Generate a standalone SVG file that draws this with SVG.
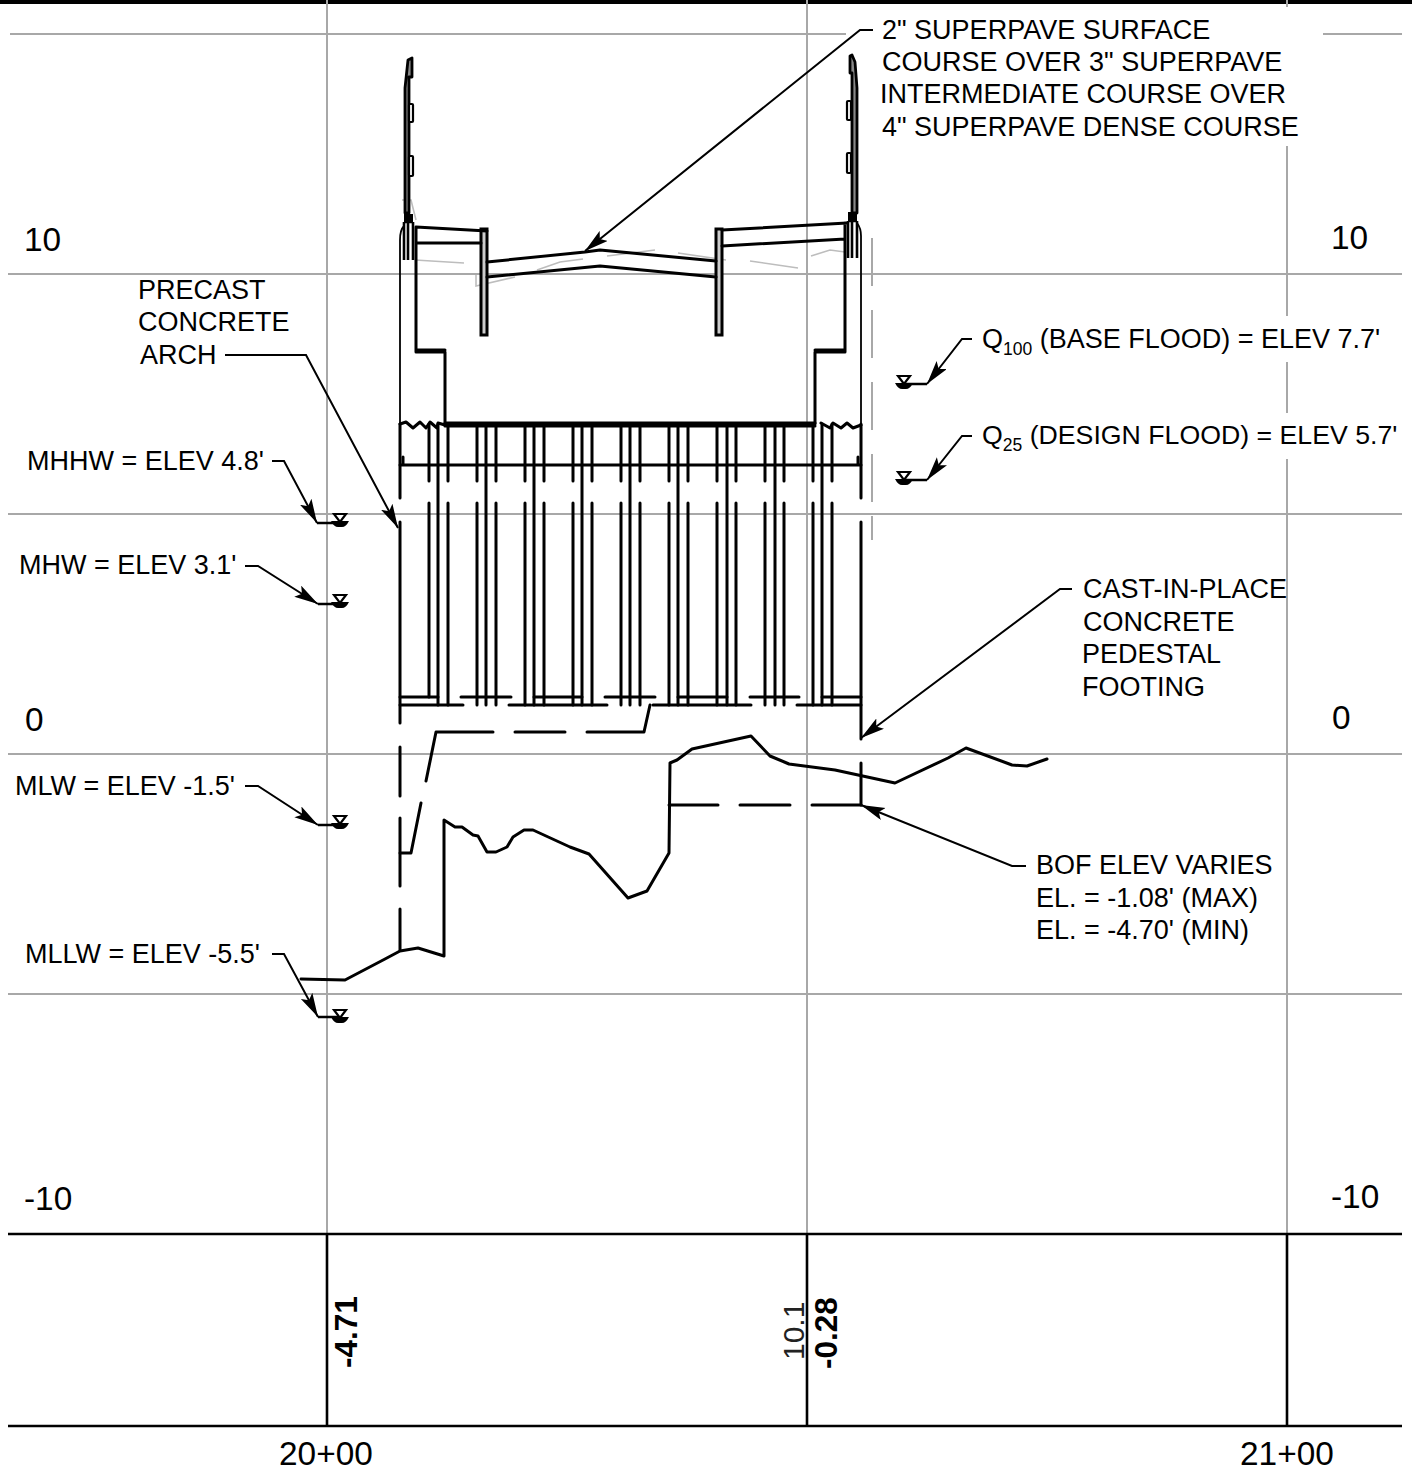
<svg xmlns="http://www.w3.org/2000/svg" width="1412" height="1472" viewBox="0 0 1412 1472">
<style>
text{font-family:"Liberation Sans",Arial,sans-serif;font-size:27px;fill:#000}
.num{font-size:33.4px}
.b{font-weight:bold;font-size:31.5px}
.g{stroke:#a8a8a8;stroke-width:2;fill:none}
.lg{stroke:#bdbdbd;stroke-width:1.6;fill:none}
.k{stroke:#000;stroke-width:3;fill:none;stroke-linecap:round;stroke-linejoin:round}
.t{stroke:#000;stroke-width:1.8;fill:none}
.m{stroke:#000;stroke-width:2.6;fill:none}
.l{stroke:#000;stroke-width:2;fill:none}
</style>
<defs>
<marker id="a" markerUnits="userSpaceOnUse" markerWidth="26" markerHeight="14" refX="24" refY="6.5" orient="auto"><path d="M0 0L24 6.5L0 13L5 6.5Z" fill="#000"/></marker>
<g id="wl"><path d="M-6 -9H6L0 -1Z" fill="#fff" stroke="#000" stroke-width="2.2"/><path d="M-9 -2H9Q6 4 2 4H-2Q-6 4-9 -2Z" fill="#000"/></g>
</defs>
<rect width="1412" height="4" fill="#000"/>
<g id="grid">
<path class="g" d="M10 34H846M1323 34H1402M8 274H1402M8 514H1402M8 754H1402M8 994H1402"/>
<path class="g" d="M327 0V1234M807 0V1234M1287 0V7M1287 146V316M1287 362V413M1287 459V1234"/>
<path class="g" d="M872 238V286M872 310V358M872 382V430M872 454V502M872 516V540"/>
</g>
<g id="profile-table">
<path class="m" d="M8 1234H1402M8 1426H1402M327 1234V1426M807 1234V1426M1287 1234V1426"/>
</g>
<g id="structure">
<path class="lg" d="M415 260L464 263M476 275V286L515 277M537 270L560 262L583 259M607 256L655 250M678 253L726 260M750 261L798 268M811 256L830 250L845 252"/>
<path class="t" d="M400 424V240Q400 230 404 226M861 424V236Q861 228 857 223"/>
<rect x="481" y="229" width="6" height="106" fill="#ccc" stroke="#000" stroke-width="3"/>
<rect x="716" y="229" width="6" height="106" fill="#ccc" stroke="#000" stroke-width="3"/>
<path class="k" d="M416 227L487 231M416 243L481 243M416 227V352H445V424M416 350H445"/>
<path class="k" d="M722 230L847 223M722 246L845 239M845 223V352H815V424M845 350H815"/>
<path class="k" d="M487 262L585 252L600 250L716 261M487 277L600 266L716 277"/>
<path class="k" d="M445 423H815M445 426H815"/>
<path class="k" d="M400 424L406 422L413 428L420 422L426 428L430 422L437 428L438 423L445 425M821 423L830 428L833 423L841 428L847 423L853 428L861 425"/>
<path class="k" d="M400 465H861M403 457V464M858 457V464"/>
</g>
<g id="rail-left">
<path class="lg" d="M402 200H411L416 220"/>
<path d="M405 213V88L408 60L412 58V77H409V213Z" fill="#888" stroke="#000" stroke-width="2.8" stroke-linejoin="round"/>
<rect x="409" y="104" width="4" height="18" rx="1" fill="#fff" stroke="#000" stroke-width="2.2"/>
<rect x="409" y="156" width="4" height="20" rx="1" fill="#fff" stroke="#000" stroke-width="2.2"/>
<rect x="404" y="214" width="9" height="8" fill="#000"/>
<path class="m" d="M404 222V260M413 222V260M408 222V260M404 222H413"/>
</g>
<g id="rail-right">
<path d="M852 213V73H850V56L852 55L855 62L857 88V213Z" fill="#888" stroke="#000" stroke-width="2.8" stroke-linejoin="round"/>
<rect x="847" y="101" width="4" height="19" rx="1" fill="#fff" stroke="#000" stroke-width="2.2"/>
<rect x="847" y="153" width="4" height="20" rx="1" fill="#fff" stroke="#000" stroke-width="2.2"/>
<rect x="848" y="212" width="9" height="9" fill="#000"/>
<path class="m" d="M848 221V258M857 221V258M852 221V258M848 221H857"/>
</g>
<g id="piles">
<path class="k" d="M429 424V481M429 503V697M448 424V481M448 503V705M477 424V481M477 503V705M496 424V481M496 503V705M525 424V481M525 503V705M544 424V481M544 503V705M573 424V481M573 503V705M592 424V481M592 503V705M621 424V481M621 503V705M640 424V481M640 503V705M669 424V481M669 503V705M688 424V481M688 503V705M717 424V481M717 503V705M736 424V481M736 503V705M765 424V481M765 503V705M784 424V481M784 503V705M813 424V481M813 503V705M832 424V481M832 503V705"/>
<path class="k" d="M438 424V705M486 424V705M534 424V705M582 424V705M630 424V705M678 424V705M727 424V705M775 424V705M822 424V705"/>
<path class="k" d="M400 424V498M400 522V723M400 747V796M400 818V886M400 909V950M861 424V498M861 522V739M861 763V805"/>
<path class="k" d="M400 697H438M461 697H511M534 697H582M605 697H655M678 697H727M750 697H799M822 697H861M400 705H463M509 705H607M653 705H751M797 705H861"/>
<path class="k" d="M400 853H411L421 803M426 781L436 732H493M515 732H565M587 732H644L650 705M669 805H718M740 805H790M812 805H861"/>
</g>
<g id="ground">
<path class="k" d="M301 979L345 980L385 959L400 951L418 948L444 956V820L455 827L462 827L473 835L478 836L487 852L496 852L507 847L513 837L524 830L533 830L570 847L589 854L628 898L647 891L669 853L670 763L677 760L692 749L751 736L770 756L789 764L835 770L895 783L948 758L966 748L1012 765L1027 766L1047 759"/>
</g>
<g id="connectors">
<path class="l" marker-end="url(#a)" d="M873 30H860L585 251"/>
<path class="l" marker-end="url(#a)" d="M225 355H306L398 528"/>
<path class="l" marker-end="url(#a)" d="M272 461H284L317 523"/>
<path class="l" marker-end="url(#a)" d="M245 566H258L318 604"/>
<path class="l" marker-end="url(#a)" d="M245 786H258L318 825"/>
<path class="l" marker-end="url(#a)" d="M272 954H284L318 1017"/>
<path class="l" marker-end="url(#a)" d="M972 339H962L927 384"/>
<path class="l" marker-end="url(#a)" d="M972 436H962L927 480"/>
<path class="l" marker-end="url(#a)" d="M1072 589H1060L861 738"/>
<path class="l" marker-end="url(#a)" d="M1026 866H1012L861 805"/>
<path class="m" d="M317 523H340M318 604H340M318 825H340M318 1017H340M905 384H927M905 480H927"/>
<use href="#wl" x="340" y="523"/><use href="#wl" x="340" y="604"/><use href="#wl" x="340" y="825"/><use href="#wl" x="340" y="1019"/><use href="#wl" x="904" y="385"/><use href="#wl" x="904" y="481"/>
</g>
<g id="labels">
<text x="882" y="39">2" SUPERPAVE SURFACE</text>
<text x="882" y="71">COURSE OVER 3" SUPERPAVE</text>
<text x="880" y="103">INTERMEDIATE COURSE OVER</text>
<text x="882" y="136">4" SUPERPAVE DENSE COURSE</text>
<text x="138" y="299">PRECAST</text>
<text x="138" y="331">CONCRETE</text>
<text x="140" y="364">ARCH</text>
<text x="27" y="470">MHHW = ELEV 4.8'</text>
<text x="19" y="574">MHW = ELEV 3.1'</text>
<text x="15" y="795">MLW = ELEV -1.5'</text>
<text x="25" y="963">MLLW = ELEV -5.5'</text>
<text x="982" y="348">Q<tspan font-size="17.5" dy="7">100</tspan><tspan dy="-7"> (BASE FLOOD) = ELEV 7.7'</tspan></text>
<text x="982" y="444" font-size="26.7" style="font-size:26.7px">Q<tspan font-size="17.5" dy="7">25</tspan><tspan dy="-7"> (DESIGN FLOOD) = ELEV 5.7'</tspan></text>
<text x="1083" y="598">CAST-IN-PLACE</text>
<text x="1083" y="631">CONCRETE</text>
<text x="1082" y="663">PEDESTAL</text>
<text x="1082" y="696">FOOTING</text>
<text x="1036" y="874">BOF ELEV VARIES</text>
<text x="1036" y="907">EL. = -1.08' (MAX)</text>
<text x="1036" y="939">EL. = -4.70' (MIN)</text>
<text class="num" x="24" y="251">10</text>
<text class="num" x="1331" y="249">10</text>
<text class="num" x="25" y="731">0</text>
<text class="num" x="1332" y="729">0</text>
<text class="num" x="24" y="1210">-10</text>
<text class="num" x="1331" y="1208">-10</text>
<text class="num" x="279" y="1465">20+00</text>
<text class="num" x="1240" y="1465">21+00</text>
<text class="b" transform="translate(356.5 1368) rotate(-90)">-4.71</text>
<text class="b" transform="translate(836.5 1369) rotate(-90)">-0.28</text>
<text class="num" style="font-size:30px;fill:#222" transform="translate(803.5 1360) rotate(-90)">10.1</text>
</g>
</svg>
